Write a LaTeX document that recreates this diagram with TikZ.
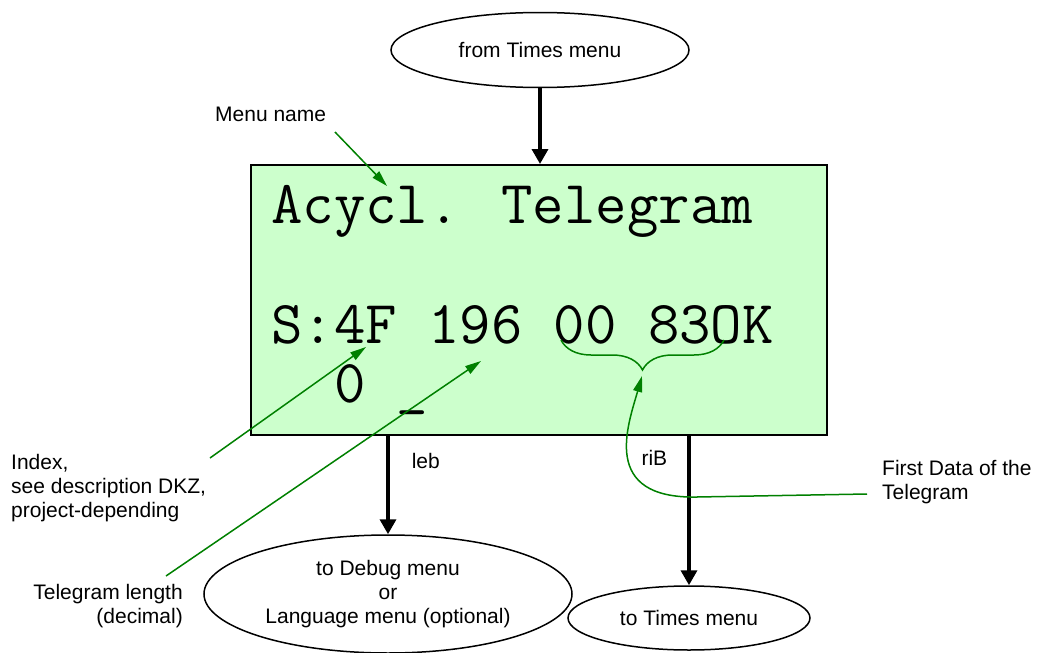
\documentclass[tikz,border=0pt]{standalone}
\usepackage{fontspec}
\setmainfont{Liberation Sans}
\usetikzlibrary{shapes}
\usetikzlibrary{arrows.meta}
\usetikzlibrary{decorations.pathreplacing}
\definecolor{lcdgreen}{RGB}{204,255,204}
\definecolor{notegreen}{RGB}{0,128,0}
\tikzset{
	textnode/.style = {
		align=center,
		inner sep=0pt,
		font=\fontsize{21}{24}\selectfont
	},
	node_menu/.style = {
		textnode,
		ellipse,
		draw=black,
		line width=1.5pt
	},
	node_lcd/.style = {
		rectangle,
		draw=black,
		fill=lcdgreen,
		line width=2pt
	},
	node_line/.style = {
		inner sep=0pt,
		anchor=base west,
		font=\ttfamily\fontsize{61}{61}\selectfont
	},
	node_note/.style = {
		textnode,
		align=left
	},
	edge_flow/.style = {
		-{Triangle[length=15pt,width=16pt]},
		line width=3.5pt
	},
	edge_note/.style = {
		-{Triangle[length=16pt,width=9pt]},
		draw=notegreen,
		fill=notegreen,
		line width=1.5pt
	},
}

\begin{document}
\begin{tikzpicture}[x=1pt,y=-1pt]
\useasboundingbox (0,0) rectangle (1037,653);
% menus
\node [node_menu, minimum width=298pt, minimum height=75pt] (from) at (540,50) {from Times menu};
\node [node_lcd, minimum width=576pt, minimum height=270pt] (lcd) at (539,300) {};
\node [node_menu, minimum width=368pt, minimum height=118pt] (debug) at (388,594) {to Debug menu\\or\\Language menu (optional)};
\node [node_menu, minimum width=242pt, minimum height=64pt] (times) at (689,618) {to Times menu};
% display lines
\node [node_line] (line1) at (271,223) {Acycl. Telegram};
\node [node_line] (line2) at (271,343) {S:4F 196 00 83OK};
\node [node_line] (line3) at (271,402) {\hphantom{00}0 \_};
% flow
\draw [edge_flow] (from.south) -- (from.south |- lcd.north);
\draw [edge_flow] (lcd.south -| debug.north) -- (debug.north) node [textnode, anchor=west, pos=0.25, xshift=22pt] (leb) {leb};
\draw [edge_flow] (lcd.south -| times.north) -- (times.north) node [textnode, anchor=east, pos=0.15, xshift=-20pt] (rib) {riB};
% notes
\node [node_note, anchor=west] (menuname) at (215,114) {Menu name};
\node [node_note, anchor=west] (index) at (11,488) {Index,\\see description DKZ,\\project-depending};
\node [node_note, anchor=east, align=right] (length) at (183,606) {Telegram length\\(decimal)};
\node [node_note, anchor=west] (firstdata) at (882,482) {First Data of the\\Telegram};
\coordinate (menu_from) at (335,132);
\coordinate (menu_to) at (387,186);
\coordinate (index_from) at (210,458);
\coordinate (index_to) at (366,347);
\coordinate (length_from) at (166,576);
\coordinate (length_to) at (481,361);
\coordinate (brace_l) at (561,340);
\coordinate (brace_r) at (724,340);
\coordinate (data_from) at (867,494);
\coordinate (data_to) at (642,376);
\draw [edge_note] (menu_from) -- (menu_to);
\draw [edge_note] (index_from) -- (index_to);
\draw [edge_note] (length_from) -- (length_to);
\draw [notegreen, line width=1.5pt, decorate, decoration={brace, mirror, amplitude=30pt}] (brace_l) -- (brace_r);
\draw [edge_note, fill=none] (data_from) -- (697,497) .. controls (600,499) and (628,425) .. (data_to);
\end{tikzpicture}
\end{document}
